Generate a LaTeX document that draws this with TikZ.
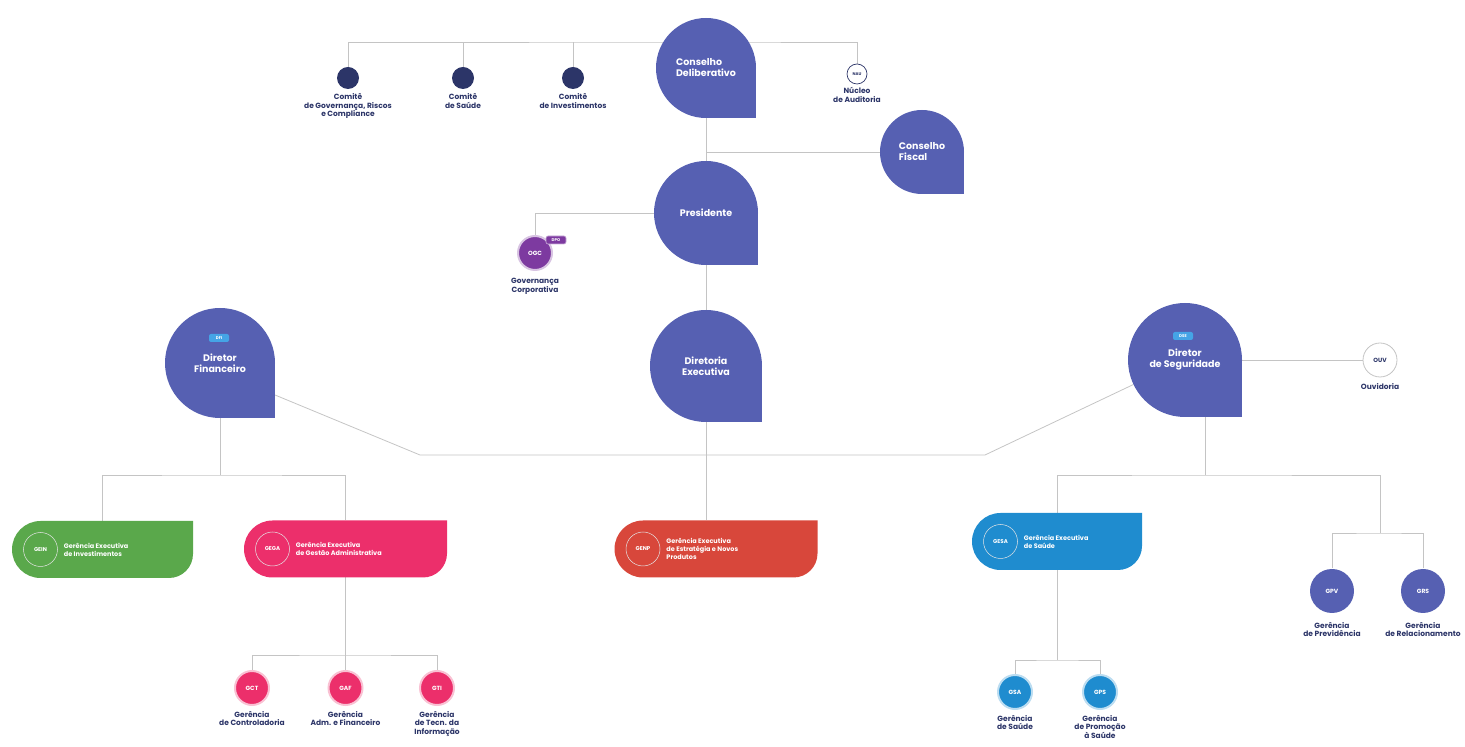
\documentclass[tikz,border=0pt]{standalone}
\usepackage{fontspec}
\setsansfont{Poppins}
\usetikzlibrary{%
    backgrounds,
    calc,
    positioning
}

\definecolor{dropblue}{HTML}{5660B2}
\definecolor{navy}{HTML}{2C3568}
\definecolor{linegray}{HTML}{C4C4C4}
\definecolor{gergreen}{HTML}{5AA84B}
\definecolor{gerpink}{HTML}{EC2F6B}
\definecolor{gerred}{HTML}{D8473B}
\definecolor{gerblue}{HTML}{1F8CCF}
\definecolor{gerpurple}{HTML}{7D3AA0}
\definecolor{tagblue}{HTML}{45A4E6}

\tikzset{
    dropnode/.style={circle, fill=dropblue, text=white, minimum size=#1,
                     inner sep=0pt, outer sep=0pt, align=center,
                     font=\sffamily\bfseries\fontsize{9.5}{11}\selectfont},
    comite/.style={circle, fill=navy, minimum size=22pt, inner sep=0pt},
    lbl/.style={text=navy, align=center, inner sep=0pt,
                font=\sffamily\bfseries\fontsize{7.5}{8.6}\selectfont},
    link/.style={draw=linegray, line width=0.8pt},
    gerbox/.style={minimum width=#1, minimum height=57pt,
                   inner sep=0pt, outer sep=0pt},
    codering/.style={circle, draw=white!80!gray, line width=0.5pt,
                     minimum size=34pt, inner sep=0pt, text=white,
                     font=\sffamily\bfseries\fontsize{5.5}{6}\selectfont},
    boxtext/.style={anchor=west, text=white, align=left, inner sep=0pt,
                    font=\sffamily\bfseries\fontsize{6.5}{8}\selectfont},
    gercirc/.style={circle, fill=#1, draw=#1!30, line width=2pt,
                    minimum size=34pt, inner sep=0pt, text=white,
                    font=\sffamily\bfseries\fontsize{6}{7}\selectfont},
    tagbox/.style={rounded corners=2pt, fill=#1, minimum width=20pt,
                   minimum height=8pt, inner sep=0pt, text=white,
                   font=\sffamily\bfseries\fontsize{4}{4.5}\selectfont}
}

\begin{document}
\begin{tikzpicture}[x=1pt, y=1pt]
    \useasboundingbox (0,0) rectangle (1465,747);

    % conselhos e diretoria
    \node[dropnode=100pt, align=left] (cd)   at (706,679) {Conselho\\Deliberativo};
    \node[dropnode=84pt, align=left]  (cf)   at (922,595) {Conselho\\Fiscal};
    \node[dropnode=104pt]             (pres) at (706,534) {Presidente};
    \node[dropnode=112pt]             (de)   at (706,381) {Diretoria\\Executiva};
    \node[dropnode=110pt]             (df)   at (220,384) {Diretor\\Financeiro};
    \node[dropnode=114pt]             (ds)   at (1185,387) {Diretor\\de Seguridade};
    \node[tagbox=tagblue] (df-tag) at (219,409) {DFI};
    \node[tagbox=tagblue] (ds-tag) at (1183,411) {DSE};

    % comites
    \node[comite] (cgr) at (348,669) {};
    \node[comite] (cs)  at (463,669) {};
    \node[comite] (ci)  at (573,669) {};
    \node[lbl, below=4pt of cgr] {Comitê\\de Governança, Riscos\\e Compliance};
    \node[lbl, below=4pt of cs]  {Comitê\\de Saúde};
    \node[lbl, below=4pt of ci]  {Comitê\\de Investimentos};

    \node[circle, fill=white, draw=navy, line width=0.7pt, minimum size=20pt,
          inner sep=0pt, text=navy, font=\sffamily\bfseries\fontsize{4}{4.5}\selectfont]
          (nau) at (857,673) {NAU};
    \node[lbl, below=3pt of nau] {Núcleo\\de Auditoria};

    \node[gercirc=gerpurple] (ogc) at (535,494) {OGC};
    \node[tagbox=gerpurple, draw=gerpurple!40, line width=0.6pt] (ogc-tag) at (556,507) {DPO};
    \node[lbl, below=7pt of ogc] {Governança\\Corporativa};

    \node[circle, fill=white, draw=linegray, line width=0.8pt, minimum size=34pt,
          inner sep=0pt, text=navy, font=\sffamily\bfseries\fontsize{6}{7}\selectfont]
          (ouv) at (1380,387) {OUV};
    \node[lbl, below=6pt of ouv] {Ouvidoria};

    % gerencias executivas
    \node[gerbox=181pt] (gein) at (102.5,197.5) {};
    \node[gerbox=203pt] (gega) at (345.5,198) {};
    \node[gerbox=203pt] (genp) at (716,198) {};
    \node[gerbox=170pt] (gesa) at (1057,205.5) {};

    \foreach \Name/\Code/\Text in {%
        gein/GEIN/{Gerência Executiva\\de Investimentos},
        gega/GEGA/{Gerência Executiva\\de Gestão Administrativa},
        genp/GENP/{Gerência Executiva\\de Estratégia e Novos\\Produtos},
        gesa/GESA/{Gerência Executiva\\de Saúde}%
        }
    {
        \node[codering] (\Name-c) at ([xshift=28.5pt]\Name.west) {\Code};
        \node[boxtext, right=6pt of \Name-c] {\Text};
    }

    % gerencias
    \node[gercirc=gerpink] (gct) at (252,59)   {GCT};
    \node[gercirc=gerpink] (gaf) at (345.5,59) {GAF};
    \node[gercirc=gerpink] (gti) at (437,59)   {GTI};
    \node[lbl, below=5pt of gct] {Gerência\\de Controladoria};
    \node[lbl, below=5pt of gaf] {Gerência\\Adm. e Financeiro};
    \node[lbl, below=5pt of gti] {Gerência\\de Tecn. da\\Informação};

    \node[gercirc=gerblue] (gsa) at (1015,55) {GSA};
    \node[gercirc=gerblue] (gps) at (1100,55) {GPS};
    \node[lbl, below=5pt of gsa] {Gerência\\de Saúde};
    \node[lbl, below=5pt of gps] {Gerência\\de Promoção\\à Saúde};

    \node[gercirc=dropblue, draw=none, minimum size=44pt] (gpv) at (1332,156) {GPV};
    \node[gercirc=dropblue, draw=none, minimum size=44pt] (grs) at (1423,156) {GRS};
    \node[lbl, below=8pt of gpv] {Gerência\\de Previdência};
    \node[lbl, below=8pt of grs] {Gerência\\de Relacionamento};

    \begin{pgfonlayer}{background}
        % ligacoes
        \coordinate (cbus) at (706,705);
        \coordinate (kl)   at (420,292);
        \coordinate (kr)   at (985,292);
        \coordinate (fbus) at (220,272);
        \coordinate (gbus) at (345.5,92);
        \coordinate (sbus) at (1205,272);
        \coordinate (rbus) at (1380,214);
        \coordinate (ebus) at (1057,87);

        \draw[link] (cgr) |- (cbus) -| (nau);
        \draw[link] (cs) -- (cs |- cbus);
        \draw[link] (ci) -- (ci |- cbus);
        \draw[link] (cd) -- (pres);
        \draw[link] (cd) |- (cf);
        \draw[link] (pres) -| (ogc);
        \draw[link] (pres) -- (de);
        \draw[link] (de) -- (de |- genp.north);
        \draw[link] ([yshift=-32pt]df.east) -- (kl) -- (kr) -- (ds);
        \draw[link] (ds) -- (ouv);

        \draw[link] (df) -- (fbus);
        \draw[link] (gein) |- (fbus) -| (gega);
        \draw[link] (gega) -- (gaf);
        \draw[link] (gct) |- (gbus) -| (gti);

        \draw[link] ([xshift=20pt]ds.south) -- (sbus);
        \draw[link] (gesa) |- (sbus) -| (rbus);
        \draw[link] (gpv) |- (rbus) -| (grs);
        \draw[link] (gesa) -- (ebus);
        \draw[link] (gsa) |- (ebus) -| (gps);

        % cantos das gotas
        \foreach \Node in {cd,cf,pres,de,df,ds}
            \fill[dropblue] (\Node.center) rectangle (\Node.east |- \Node.south);

        % caixas das gerencias executivas
        \foreach \Name/\Col in {gein/gergreen, gega/gerpink, genp/gerred, gesa/gerblue}
            \fill[\Col] ([xshift=28.5pt]\Name.north west) -- (\Name.north east)
                -- ([yshift=24pt]\Name.south east)
                arc[start angle=0, end angle=-90, radius=24pt]
                -- ([xshift=28.5pt]\Name.south west)
                arc[start angle=270, end angle=90, radius=28.5pt] -- cycle;
    \end{pgfonlayer}
\end{tikzpicture}
\end{document}
